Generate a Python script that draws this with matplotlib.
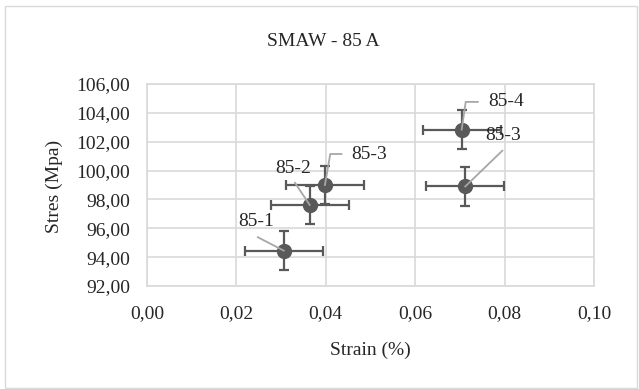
import matplotlib
matplotlib.use("Agg")
import matplotlib.pyplot as plt
from matplotlib.patches import Rectangle

plt.rcParams['font.family'] = ['Liberation Serif', 'DejaVu Serif']

# Data
strain = [0.0306, 0.0364, 0.0398, 0.0704, 0.0712]
stress = [94.45, 97.62, 99.00, 102.84, 98.90]
strain_err = [0.0087, 0.0087, 0.0087, 0.0087, 0.0087]
stress_err = [1.33, 1.33, 1.33, 1.33, 1.33]
point_labels = ['85-1', '85-2', '85-3', '85-4', '85-3']
x_ticks = [0.00, 0.02, 0.04, 0.06, 0.08, 0.10]
y_ticks = [92, 94, 96, 98, 100, 102, 104, 106]

# label placement (text centre) and leader-line knee points, data coords
label_pos = [(0.0245, 96.5), (0.0327, 100.16), (0.0496, 101.08), (0.0803, 104.76), (0.0796, 102.46)]
leader_knees = [
    [(0.0248, 95.38)],
    [(0.0331, 99.15)],
    [(0.0435, 101.15), (0.0410, 101.15)],
    [(0.0740, 104.76), (0.0713, 104.76)],
    [(0.0795, 101.38)],
]

W, H = 639, 389
fig = plt.figure(figsize=(W / 100, H / 100), dpi=100)
fig.patches.append(Rectangle((4.5 / W, 1.5 / H), (637 - 4.5) / W, (383 - 1.5) / H,
                             transform=fig.transFigure, fill=False,
                             edgecolor='#d9d9d9', linewidth=1.0))

ax = fig.add_axes([147 / W, 1 - 286 / H, (594 - 147) / W, (286 - 84) / H])
ax.set_xlim(x_ticks[0], x_ticks[-1])
ax.set_ylim(y_ticks[0], y_ticks[-1])
ax.set_xticks(x_ticks)
ax.set_yticks(y_ticks)
ax.set_xticklabels([f"{v:.2f}".replace('.', ',') for v in x_ticks])
ax.set_yticklabels([f"{v:.2f}".replace('.', ',') for v in y_ticks])
ax.tick_params(length=0, labelsize=14, colors='#262626')
ax.tick_params(axis='x', pad=14)
ax.tick_params(axis='y', pad=12)
ax.grid(True, color='#d9d9d9', linewidth=1.2)
ax.set_axisbelow(True)
for s in ax.spines.values():
    s.set_color('#d9d9d9')
    s.set_linewidth(1.2)

ax.errorbar(strain, stress, xerr=strain_err, yerr=stress_err, fmt='o',
            color='#595959', ecolor='#595959', markersize=10, elinewidth=1.6,
            capsize=3.8, capthick=1.6, zorder=3)

for (tx, ty), knees, px, py, lab in zip(label_pos, leader_knees, strain, stress, point_labels):
    xs = [k[0] for k in knees] + [px]
    ys = [k[1] for k in knees] + [py]
    ax.plot(xs, ys, color='#a6a6a6', linewidth=1.3, zorder=4)
    ax.text(tx, ty, lab, ha='center', va='center', fontsize=14, color='#262626', zorder=5)

fig.text(323 / W, 1 - 41 / H, 'SMAW - 85 A', ha='center', va='center', fontsize=14, color='#262626')
fig.text(370 / W, 1 - 350 / H, 'Strain (%)', ha='center', va='center', fontsize=14, color='#262626')
fig.text(54 / W, 1 - 186 / H, 'Stres (Mpa)', ha='center', va='center', fontsize=14,
         rotation=90, color='#262626')

fig.savefig('out.png', dpi=100)
